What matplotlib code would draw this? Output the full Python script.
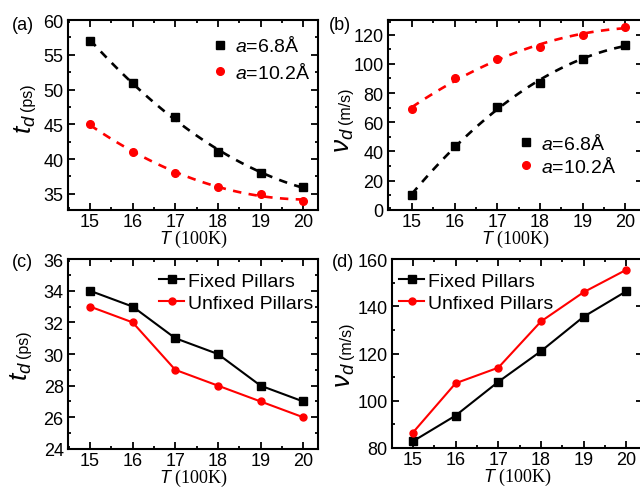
import numpy as np
import matplotlib
matplotlib.use("Agg")
import matplotlib.pyplot as plt
from matplotlib.ticker import MultipleLocator

plt.rcParams['font.family'] = ['Liberation Sans', 'DejaVu Sans']
plt.rcParams['mathtext.fontset'] = 'custom'
plt.rcParams['mathtext.it'] = 'Liberation Sans:italic'
plt.rcParams['mathtext.rm'] = 'Liberation Sans'

T = [15, 16, 17, 18, 19, 20]

# (a) t_d vs T for two lattice constants
ta_68 = [57, 51, 46, 41, 38, 36]
ta_102 = [45, 41, 38, 36, 35, 34]
# (b) v_d vs T
vb_68 = [10, 43.5, 70.3, 87, 103.6, 112.7]
vb_102 = [68.8, 90.4, 103.4, 111.4, 120, 125.3]
# (c) t_d fixed/unfixed pillars
tc_fixed = [34, 33, 31, 30, 28, 27]
tc_unfixed = [33, 32, 29, 28, 27, 26]
# (d) v_d fixed/unfixed pillars
vd_fixed = [82.8, 93.7, 108, 121, 135.6, 146.4]
vd_unfixed = [86.5, 107.4, 114, 133.6, 146, 155.5]

lab68 = r'$a$=6.8Å'
lab102 = r'$a$=10.2Å'

fig = plt.figure(figsize=(6.4, 4.89), dpi=100)

def make_ax(l, r, b, t):
    return fig.add_axes([l, b, r - l, t - b])

axA = make_ax(0.106, 0.497, 0.569, 0.957)
axB = make_ax(0.606, 1.004, 0.569, 0.957)
axC = make_ax(0.106, 0.497, 0.080, 0.468)
axD = make_ax(0.6125, 1.004, 0.082, 0.468)

def style(ax, xlim, ylim, ymaj, ymin):
    ax.set_xlim(*xlim)
    ax.set_ylim(*ylim)
    ax.xaxis.set_major_locator(MultipleLocator(1))
    ax.xaxis.set_minor_locator(MultipleLocator(0.5))
    ax.yaxis.set_major_locator(MultipleLocator(ymaj))
    ax.yaxis.set_minor_locator(MultipleLocator(ymin))
    ax.tick_params(which='both', direction='in', top=True, right=True, width=1.3)
    ax.tick_params(which='major', length=5, labelsize=13)
    ax.tick_params(which='minor', length=2.5)
    ax.tick_params(axis='x', pad=2)
    ax.tick_params(axis='y', pad=3)
    for s in ax.spines.values():
        s.set_linewidth(1.5)
    ax.set_xlabel(r'$\mathit{T}$ (100K)', family='Liberation Serif', fontsize=13, labelpad=-1)

def ylab(ax, sym, unit, x, y):
    ax.text(x, y, sym, transform=ax.transAxes, rotation=90, rotation_mode='anchor',
            ha='right', va='baseline', fontsize=19)
    ax.text(x, y + 0.015, unit, transform=ax.transAxes, rotation=90, rotation_mode='anchor',
            ha='left', va='baseline', fontsize=11.5)

def panel(ax, s, x, y):
    ax.text(x, y, s, transform=ax.transAxes, fontsize=13, ha='left', va='top')

Tf = np.linspace(15, 20, 100)
dash = (3.2, 2.8)

# (a)
for y, c, m, ms, lab in [(ta_68, 'black', 's', 5.5, lab68), (ta_102, 'red', 'o', 5.5, lab102)]:
    p = np.polyfit(T, y, 2)
    axA.plot(Tf, np.polyval(p, Tf), color=c, lw=1.9, dashes=dash)
    axA.plot(T, y, ls='none', marker=m, ms=ms, color=c, label=lab)
style(axA, (14.48, 20.35), (32.7, 60), 5, 2.5)
axA.legend(loc='upper left', bbox_to_anchor=(0.53, 0.97), frameon=False, fontsize=14,
           handlelength=1.0, handletextpad=0.3, borderpad=0, labelspacing=0.35)
ylab(axA, r'$t_d$', '(ps)', -0.145, 0.51)
panel(axA, '(a)', -0.225, 1.02)

# (b)
for y, c, m, ms, lab in [(vb_68, 'black', 's', 5.5, lab68), (vb_102, 'red', 'o', 5.5, lab102)]:
    p = np.polyfit(T, y, 2)
    axB.plot(Tf, np.polyval(p, Tf), color=c, lw=1.9, dashes=dash)
    axB.plot(T, y, ls='none', marker=m, ms=ms, color=c, label=lab)
style(axB, (14.44, 20.40), (0, 130), 20, 10)
axB.legend(loc='upper left', bbox_to_anchor=(0.465, 0.455), frameon=False, fontsize=14,
           handlelength=1.0, handletextpad=0.3, borderpad=0, labelspacing=0.15)
ylab(axB, r'$\nu_d$', '(m/s)', -0.15, 0.44)
panel(axB, '(b)', -0.23, 1.02)

# (c)
axC.plot(T, tc_fixed, color='black', marker='s', ms=5.5, lw=1.5, label='Fixed Pillars')
axC.plot(T, tc_unfixed, color='red', marker='o', ms=5, lw=1.5, label='Unfixed Pillars')
style(axC, (14.48, 20.35), (24, 36), 2, 1)
axC.legend(loc='upper left', bbox_to_anchor=(0.325, 0.98), frameon=False, fontsize=14,
           handlelength=1.3, handletextpad=0.2, borderpad=0, labelspacing=0.2)
ylab(axC, r'$t_d$', '(ps)', -0.16, 0.47)
panel(axC, '(c)', -0.225, 1.035)

# (d)
axD.plot(T, vd_fixed, color='black', marker='s', ms=5.5, lw=1.5, label='Fixed Pillars')
axD.plot(T, vd_unfixed, color='red', marker='o', ms=5, lw=1.5, label='Unfixed Pillars')
style(axD, (14.51, 20.38), (80, 160), 20, 10)
axD.legend(loc='upper left', bbox_to_anchor=(-0.01, 0.98), frameon=False, fontsize=14,
           handlelength=1.3, handletextpad=0.2, borderpad=0, labelspacing=0.2)
ylab(axD, r'$\nu_d$', '(m/s)', -0.165, 0.46)
panel(axD, '(d)', -0.24, 1.035)

fig.savefig('out.png', dpi=100)
